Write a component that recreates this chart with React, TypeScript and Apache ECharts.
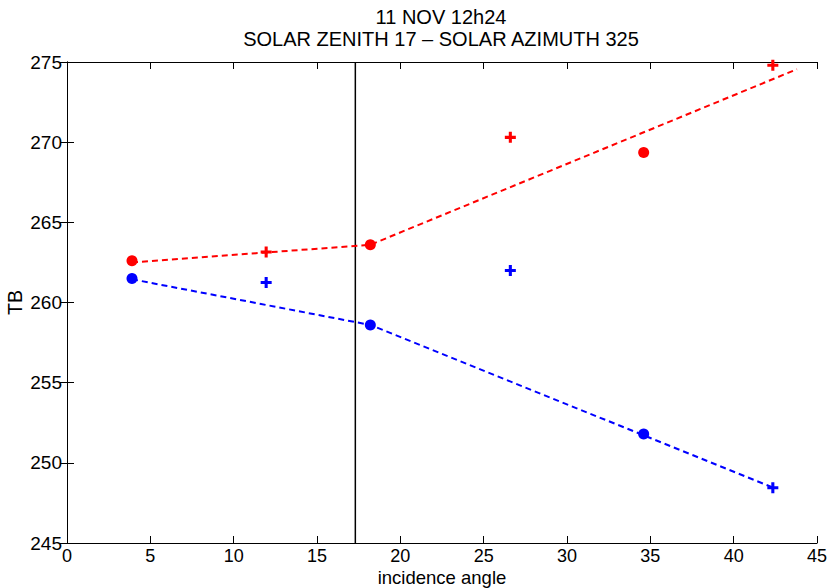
import React, { useEffect, useRef } from "react";
import * as echarts from "echarts";

const titleLines = ["11 NOV 12h24", "SOLAR ZENITH 17 – SOLAR AZIMUTH 325"];
const xTicks = { min: 0, max: 45, interval: 5 };
const yTicks = { min: 245, max: 275, interval: 5 };

const redCircles: [number, number][] = [
  [3.9, 262.6],
  [18.2, 263.6],
  [34.6, 269.35],
];
const redPlus: [number, number][] = [
  [11.95, 263.15],
  [26.6, 270.3],
  [42.35, 274.8],
];
const blueCircles: [number, number][] = [
  [3.9, 261.5],
  [18.2, 258.6],
  [34.6, 251.8],
];
const bluePlus: [number, number][] = [
  [11.95, 261.25],
  [26.6, 262.0],
  [42.35, 248.45],
];
const redFit: [number, number][] = [
  [3.9, 262.5],
  [18.2, 263.6],
  [43.8, 274.55],
];
const blueFit: [number, number][] = [
  [3.9, 261.45],
  [18.2, 258.6],
  [42.5, 248.4],
];
const zenithLine: [number, number][] = [
  [17.3, 245],
  [17.3, 275],
];

const PLUS = "path://M3.6,0H6.4V3.6H10V6.4H6.4V10H3.6V6.4H0V3.6H3.6Z";
const FONT = "Liberation Sans, Arial, sans-serif";

export default function App() {
  const ref = useRef<HTMLDivElement>(null);
  useEffect(() => {
    if (!ref.current) return;
    const chart = echarts.init(ref.current, null, { renderer: "svg" });
    const axisLine = { show: true, lineStyle: { color: "#000", width: 1 } };
    const tick = { show: true, inside: true, length: 7, lineStyle: { color: "#000", width: 1 } };
    const label = { color: "#000", fontSize: 19, fontFamily: FONT };
    chart.setOption({
      animation: false,
      backgroundColor: "#fff",
      title: {
        text: titleLines.join("\n"),
        left: 441,
        top: 6,
        padding: 0,
        textAlign: "center",
        textStyle: { fontSize: 20, fontWeight: "normal", color: "#000", fontFamily: FONT, lineHeight: 22 },
      },
      grid: { left: 67, right: 15, top: 62, bottom: 45, outerBoundsMode: "none", containLabel: false },
      xAxis: [
        {
          type: "value",
          ...xTicks,
          position: "bottom",
          axisLine,
          axisTick: tick,
          axisLabel: { ...label, fontSize: 18, margin: 4, lineHeight: 18 },
          splitLine: { show: false },
          name: "incidence angle",
          nameLocation: "middle",
          nameGap: 25,
          nameMoveOverlap: false,
          nameTextStyle: { ...label, fontSize: 18.5, lineHeight: 19 },
        },
        {
          type: "value",
          ...xTicks,
          position: "top",
          axisLine,
          axisTick: tick,
          axisLabel: { show: false },
          splitLine: { show: false },
        },
      ],
      yAxis: [
        {
          type: "value",
          ...yTicks,
          position: "left",
          axisLine,
          axisTick: tick,
          axisLabel: { ...label, margin: 5 },
          splitLine: { show: false },
          name: "TB",
          nameLocation: "middle",
          nameGap: 42,
          nameMoveOverlap: false,
          nameTextStyle: { ...label, fontSize: 19.5 },
        },
        {
          type: "value",
          ...yTicks,
          position: "right",
          axisLine,
          axisTick: tick,
          axisLabel: { show: false },
          splitLine: { show: false },
        },
      ],
      series: [
        {
          type: "line",
          data: zenithLine,
          symbol: "none",
          lineStyle: { color: "#000", width: 1.5 },
          silent: true,
        },
        {
          type: "line",
          data: redFit,
          symbol: "none",
          lineStyle: { color: "#ff0000", width: 2, type: [6, 4] },
        },
        {
          type: "line",
          data: blueFit,
          symbol: "none",
          lineStyle: { color: "#0000ff", width: 2, type: [6, 4] },
        },
        {
          type: "scatter",
          data: redCircles,
          symbol: "circle",
          symbolSize: 11,
          itemStyle: { color: "#ff0000", opacity: 1 },
        },
        {
          type: "scatter",
          data: blueCircles,
          symbol: "circle",
          symbolSize: 11,
          itemStyle: { color: "#0000ff", opacity: 1 },
        },
        {
          type: "scatter",
          data: redPlus,
          symbol: PLUS,
          symbolSize: 11,
          itemStyle: { color: "#ff0000", opacity: 1 },
        },
        {
          type: "scatter",
          data: bluePlus,
          symbol: PLUS,
          symbolSize: 11,
          itemStyle: { color: "#0000ff", opacity: 1 },
        },
      ],
    });
    return () => chart.dispose();
  }, []);
  return (
    <div
      ref={ref}
      style={{ position: "absolute", left: 0, top: 0, width: 832, height: 588 }}
    />
  );
}
